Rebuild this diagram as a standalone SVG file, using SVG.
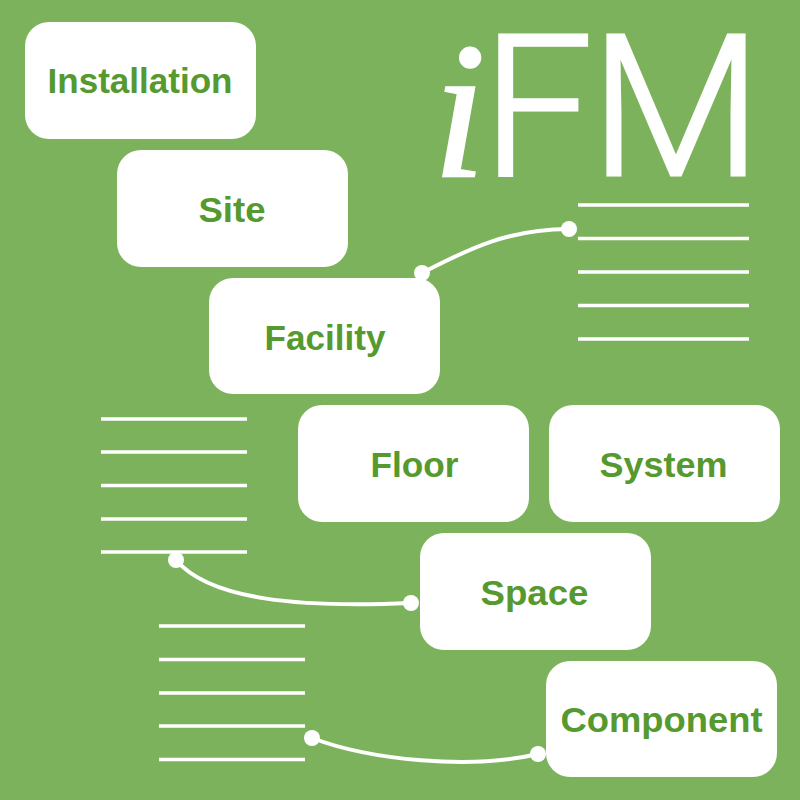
<svg xmlns="http://www.w3.org/2000/svg" width="800" height="800" viewBox="0 0 800 800">
<style>
.n{fill:#fff}
.t{font-family:"Liberation Sans",Arial,sans-serif;font-weight:bold;font-size:35px;fill:#55992f;text-anchor:middle}
.l{stroke:#fff;stroke-width:3.500;fill:none}
.c{stroke:#fff;stroke-width:4;fill:none}
.d{fill:#fff}
.h{font-family:Roboto,"Liberation Sans",sans-serif;font-weight:300;font-size:197px;fill:#fff;stroke:#fff;stroke-width:3}
</style>
<rect width="800" height="800" fill="#7db25c"/>
<g id="title"><text x="432" y="177" font-family="'Liberation Serif',serif" font-style="italic" font-size="196" fill="#fff" stroke="#fff" stroke-width="1.500">i</text><text class="h" x="482" y="175">F</text><text class="h" x="590" y="175" textLength="172" lengthAdjust="spacingAndGlyphs">M</text></g>
<g id="connectors">
<path class="c" d="M422 273C470 248 510 229 569 229"/>
<path class="c" d="M176 560C210 600 300 608 411 603"/>
<path class="c" d="M312 738C370 760 470 770 538 754"/>
<circle class="d" cx="422" cy="273" r="8"/><circle class="d" cx="569" cy="229" r="8"/>
<circle class="d" cx="176" cy="560" r="8"/><circle class="d" cx="411" cy="603" r="8"/>
<circle class="d" cx="312" cy="738" r="8"/><circle class="d" cx="538" cy="754" r="8"/>
<path class="l" d="M578 205H749M578 238.500H749M578 272H749M578 305.500H749M578 339H749"/>
<path class="l" d="M101 419H247M101 452H247M101 485.500H247M101 519H247M101 552H247"/>
<path class="l" d="M159 626H305M159 659.500H305M159 693H305M159 726H305M159 759.500H305"/>
</g>
<g id="installation"><rect class="n" x="25" y="22" width="231" height="117" rx="24"/><text class="t" x="140" y="93" textLength="185" lengthAdjust="spacingAndGlyphs">Installation</text></g>
<g id="site"><rect class="n" x="117" y="150" width="231" height="117" rx="24"/><text class="t" x="232" y="222" textLength="67" lengthAdjust="spacingAndGlyphs">Site</text></g>
<g id="facility"><rect class="n" x="209" y="278" width="231" height="116" rx="24"/><text class="t" x="325" y="350" textLength="121" lengthAdjust="spacingAndGlyphs">Facility</text></g>
<g id="floor"><rect class="n" x="298" y="405" width="231" height="117" rx="24"/><text class="t" x="414.500" y="477" textLength="88" lengthAdjust="spacingAndGlyphs">Floor</text></g>
<g id="system"><rect class="n" x="549" y="405" width="231" height="117" rx="24"/><text class="t" x="663.500" y="477" textLength="128" lengthAdjust="spacingAndGlyphs">System</text></g>
<g id="space"><rect class="n" x="420" y="533" width="231" height="117" rx="24"/><text class="t" x="534.500" y="605" textLength="108" lengthAdjust="spacingAndGlyphs">Space</text></g>
<g id="component"><rect class="n" x="546" y="661" width="231" height="116" rx="24"/><text class="t" x="661.500" y="732" textLength="202" lengthAdjust="spacingAndGlyphs">Component</text></g>
</svg>
